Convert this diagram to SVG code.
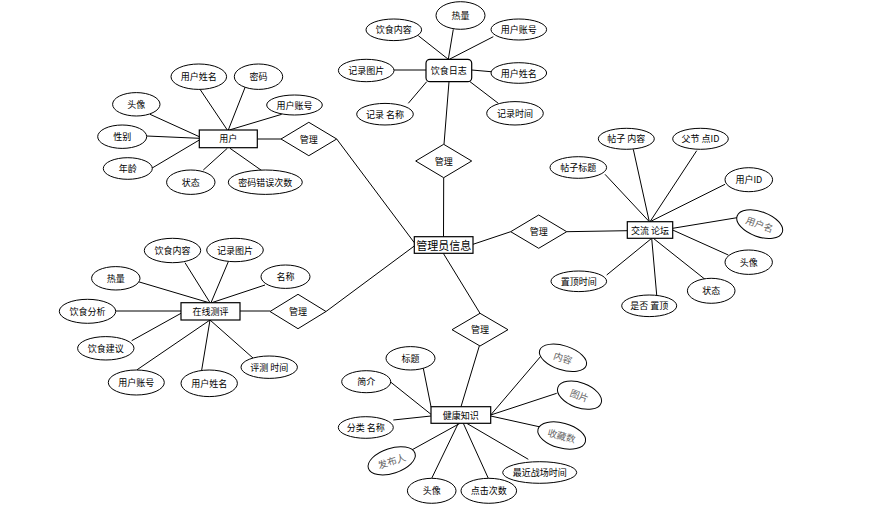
<svg xmlns="http://www.w3.org/2000/svg" width="872" height="514" viewBox="0 0 872 514">
<style>
.e{fill:#fff;stroke:#000;stroke-width:1}
.r{fill:#fff;stroke:#000;stroke-width:1.2}
.d{fill:#fff;stroke:#000;stroke-width:1}
.t{font-family:"Noto Sans CJK SC","Liberation Sans",sans-serif;font-size:9px;fill:#000;text-anchor:middle;dominant-baseline:central}
.g{font-family:"Noto Sans CJK SC","Liberation Sans",serif;font-size:9.5px;fill:#666;text-anchor:middle;dominant-baseline:central}
.big{font-size:11px}
#connectors line{stroke:#000;stroke-width:1}
</style>
<rect width="872" height="514" fill="#fff"/>
<g id="connectors">
<line x1="443.5" y1="237" x2="443.7" y2="178"/>
<line x1="473" y1="244.3" x2="510.7" y2="231.7"/>
<line x1="336.7" y1="139" x2="414.3" y2="242.7"/>
<line x1="326" y1="311.5" x2="414.3" y2="246"/>
<line x1="443.3" y1="253.3" x2="480" y2="313.3"/>
<line x1="444" y1="144.3" x2="449" y2="81.7"/>
<line x1="418.3" y1="35.7" x2="448.3" y2="59.3"/>
<line x1="453.3" y1="29.3" x2="448.3" y2="59.3"/>
<line x1="493.3" y1="36.7" x2="449.3" y2="59.3"/>
<line x1="394" y1="70" x2="426" y2="70"/>
<line x1="471.7" y1="70" x2="491" y2="71.7"/>
<line x1="408.3" y1="103.3" x2="426.7" y2="81.7"/>
<line x1="498.3" y1="103.3" x2="470" y2="81.7"/>
<line x1="257.3" y1="139" x2="281" y2="139"/>
<line x1="200" y1="89.3" x2="227.3" y2="130"/>
<line x1="246" y1="85" x2="228.3" y2="130"/>
<line x1="281.7" y1="114.3" x2="229.3" y2="130"/>
<line x1="150" y1="114.3" x2="199.3" y2="136.7"/>
<line x1="146.7" y1="136" x2="199.3" y2="138.3"/>
<line x1="151.7" y1="168.3" x2="199.3" y2="140"/>
<line x1="203.3" y1="170" x2="227.3" y2="148.3"/>
<line x1="263.3" y1="171.7" x2="230" y2="148.3"/>
<line x1="566.7" y1="231.7" x2="627.3" y2="230.7"/>
<line x1="633.3" y1="149.3" x2="649.3" y2="221.7"/>
<line x1="696.7" y1="150.7" x2="650" y2="221.7"/>
<line x1="605" y1="174.3" x2="649.3" y2="221.7"/>
<line x1="725" y1="184.3" x2="650" y2="221.7"/>
<line x1="737" y1="217.7" x2="672.7" y2="228.3"/>
<line x1="728.3" y1="255" x2="672.7" y2="230"/>
<line x1="705" y1="279.3" x2="653.3" y2="238.3"/>
<line x1="606.7" y1="275" x2="651.7" y2="238.3"/>
<line x1="656.7" y1="295" x2="651.7" y2="238.3"/>
<line x1="240" y1="311" x2="270" y2="311"/>
<line x1="185" y1="262.7" x2="210" y2="302.7"/>
<line x1="228.3" y1="261.7" x2="211" y2="302.7"/>
<line x1="138.3" y1="281.7" x2="209" y2="302.7"/>
<line x1="265" y1="285" x2="211.7" y2="302.7"/>
<line x1="115.7" y1="311" x2="181" y2="311"/>
<line x1="131.7" y1="340.7" x2="181" y2="313.3"/>
<line x1="136.7" y1="370" x2="210" y2="320"/>
<line x1="201.7" y1="370" x2="210" y2="320"/>
<line x1="253.3" y1="358.3" x2="210" y2="320"/>
<line x1="479.3" y1="346" x2="461" y2="406.7"/>
<line x1="423.3" y1="368.3" x2="431" y2="406.7"/>
<line x1="389.3" y1="381" x2="431" y2="414.3"/>
<line x1="542.7" y1="354" x2="490.7" y2="415"/>
<line x1="556.7" y1="393.3" x2="490.7" y2="415"/>
<line x1="539" y1="426.7" x2="490.7" y2="416"/>
<line x1="393.3" y1="420" x2="431" y2="416"/>
<line x1="411.7" y1="450" x2="460" y2="423.3"/>
<line x1="466.7" y1="423.3" x2="528.3" y2="459.3"/>
<line x1="458.3" y1="423.3" x2="431.7" y2="478.3"/>
<line x1="463.3" y1="423.3" x2="488.3" y2="478.3"/>
</g>
<g id="admin">
<rect class="r" x="414.3" y="236.7" width="58.7" height="16.6" stroke-width="1.6"/>
<text class="t big" x="443.7" y="245">管理员信息</text>
</g>
<g id="rel-diet"><polygon class="d" points="415.7,161 443.7,144.3 471.7,161 443.7,177.7"/><text class="t" x="443.7" y="161">管理</text></g>
<g id="rel-forum"><polygon class="d" points="510.7,231.7 538.7,215 566.7,231.7 538.7,248.3"/><text class="t" x="538.7" y="231.7">管理</text></g>
<g id="rel-user"><polygon class="d" points="281,139 308.8,122.3 336.7,139 308.8,155.7"/><text class="t" x="308.8" y="139">管理</text></g>
<g id="rel-eval"><polygon class="d" points="270,311.5 298,294.3 326,311.5 298,328.7"/><text class="t" x="298" y="311.5">管理</text></g>
<g id="rel-health"><polygon class="d" points="452,329.7 480,313.3 508,329.7 480,346"/><text class="t" x="480" y="329.7">管理</text></g>
<g id="diet"><rect class="r" x="426" y="59.3" width="45.7" height="22.4" rx="4"/><text class="t" x="448.8" y="70.5">饮食日志</text></g>
<g id="diet-a1"><ellipse class="e" cx="393.8" cy="29.8" rx="27.8" ry="10.8"/><text class="t" x="393.8" y="29.8">饮食内容</text></g>
<g id="diet-a2"><ellipse class="e" cx="460.5" cy="15.5" rx="24.5" ry="13.8"/><text class="t" x="460.5" y="15.5">热量</text></g>
<g id="diet-a3"><ellipse class="e" cx="518.8" cy="29.5" rx="27.8" ry="10.5"/><text class="t" x="518.8" y="29.5">用户账号</text></g>
<g id="diet-a4"><ellipse class="e" cx="366.2" cy="70.5" rx="27.8" ry="11.2"/><text class="t" x="366.2" y="70.5">记录图片</text></g>
<g id="diet-a5"><ellipse class="e" cx="518.8" cy="73" rx="27.8" ry="10.3"/><text class="t" x="518.8" y="73">用户姓名</text></g>
<g id="diet-a6"><ellipse class="e" cx="385" cy="114.2" rx="28.3" ry="10.8"/><text class="t" x="385" y="114.2">记录 名称</text></g>
<g id="diet-a7"><ellipse class="e" cx="515" cy="113.3" rx="28.3" ry="11.7"/><text class="t" x="515" y="113.3">记录时间</text></g>
<g id="user"><rect class="r" x="199.3" y="130" width="58" height="17.7"/><text class="t" x="228.3" y="138.8">用户</text></g>
<g id="user-a1"><ellipse class="e" cx="198.8" cy="76.7" rx="27.8" ry="12.7"/><text class="t" x="198.8" y="76.7">用户姓名</text></g>
<g id="user-a2"><ellipse class="e" cx="258.5" cy="76.7" rx="24.2" ry="12.7"/><text class="t" x="258.5" y="76.7">密码</text></g>
<g id="user-a3"><ellipse class="e" cx="136.3" cy="104.3" rx="23.7" ry="11.7"/><text class="t" x="136.3" y="104.3">头像</text></g>
<g id="user-a4"><ellipse class="e" cx="294.5" cy="105" rx="27.8" ry="10"/><text class="t" x="294.5" y="105">用户账号</text></g>
<g id="user-a5"><ellipse class="e" cx="122.2" cy="136.7" rx="24.5" ry="11.7"/><text class="t" x="122.2" y="136.7">性别</text></g>
<g id="user-a6"><ellipse class="e" cx="127.8" cy="168.5" rx="24.5" ry="10.8"/><text class="t" x="127.8" y="168.5">年龄</text></g>
<g id="user-a7"><ellipse class="e" cx="190.8" cy="182.2" rx="24.2" ry="12.2"/><text class="t" x="190.8" y="182.2">状态</text></g>
<g id="user-a8"><ellipse class="e" cx="265.3" cy="182.2" rx="37" ry="12.2"/><text class="t" x="265.3" y="182.2">密码错误次数</text></g>
<g id="forum"><rect class="r" x="627.3" y="221.7" width="45.4" height="16.6"/><text class="t" x="650" y="230">交流 论坛</text></g>
<g id="forum-a1"><ellipse class="e" cx="626.3" cy="138.8" rx="28" ry="10.5"/><text class="t" x="626.3" y="138.8">帖子 内容</text></g>
<g id="forum-a2"><ellipse class="e" cx="700.5" cy="138.8" rx="27.8" ry="10.5"/><text class="t" x="700.5" y="138.8">父节 点ID</text></g>
<g id="forum-a3"><ellipse class="e" cx="578.3" cy="167.5" rx="28.3" ry="10.8"/><text class="t" x="578.3" y="167.5">帖子标题</text></g>
<g id="forum-a4"><ellipse class="e" cx="748.8" cy="179.7" rx="23.8" ry="12"/><text class="t" x="748.8" y="179.7">用户ID</text></g>
<g id="forum-a5" transform="rotate(20 759.7 224.2)"><ellipse class="e" cx="759.7" cy="224.2" rx="24" ry="12.5"/><text class="g" x="759.7" y="224.2">用户名</text></g>
<g id="forum-a6"><ellipse class="e" cx="748.7" cy="262.2" rx="23.7" ry="12.2"/><text class="t" x="748.7" y="262.2">头像</text></g>
<g id="forum-a7"><ellipse class="e" cx="711.2" cy="290.8" rx="23.8" ry="12.5"/><text class="t" x="711.2" y="290.8">状态</text></g>
<g id="forum-a8"><ellipse class="e" cx="578.8" cy="281.3" rx="27.8" ry="10.3"/><text class="t" x="578.8" y="281.3">置顶时间</text></g>
<g id="forum-a9"><ellipse class="e" cx="649.2" cy="305.8" rx="27.5" ry="10.8"/><text class="t" x="649.2" y="305.8">是否 置顶</text></g>
<g id="eval"><rect class="r" x="181" y="302.7" width="59" height="17.3"/><text class="t" x="210.5" y="311.3">在线测评</text></g>
<g id="eval-a1"><ellipse class="e" cx="172.5" cy="250.5" rx="28.2" ry="12.2"/><text class="t" x="172.5" y="250.5">饮食内容</text></g>
<g id="eval-a2"><ellipse class="e" cx="235" cy="250" rx="28.3" ry="11.7"/><text class="t" x="235" y="250">记录图片</text></g>
<g id="eval-a3"><ellipse class="e" cx="115.8" cy="278.3" rx="24.2" ry="11.7"/><text class="t" x="115.8" y="278.3">热量</text></g>
<g id="eval-a4"><ellipse class="e" cx="285.5" cy="276.7" rx="24.5" ry="11.7"/><text class="t" x="285.5" y="276.7">名称</text></g>
<g id="eval-a5"><ellipse class="e" cx="87.5" cy="311.3" rx="28.2" ry="12"/><text class="t" x="87.5" y="311.3">饮食分析</text></g>
<g id="eval-a6"><ellipse class="e" cx="105.8" cy="348.3" rx="28.2" ry="11.7"/><text class="t" x="105.8" y="348.3">饮食建议</text></g>
<g id="eval-a7"><ellipse class="e" cx="136.3" cy="382.5" rx="28" ry="12.5"/><text class="t" x="136.3" y="382.5">用户账号</text></g>
<g id="eval-a8"><ellipse class="e" cx="209.2" cy="383.3" rx="28.2" ry="13.3"/><text class="t" x="209.2" y="383.3">用户姓名</text></g>
<g id="eval-a9"><ellipse class="e" cx="269.2" cy="367.2" rx="28.2" ry="11.2"/><text class="t" x="269.2" y="367.2">评测 时间</text></g>
<g id="health"><rect class="r" x="431" y="406.7" width="59.7" height="16.6"/><text class="t" x="460.8" y="415">健康知识</text></g>
<g id="health-a1"><ellipse class="e" cx="410.5" cy="358.3" rx="24.5" ry="11.7"/><text class="t" x="410.5" y="358.3">标题</text></g>
<g id="health-a2"><ellipse class="e" cx="366.2" cy="381.7" rx="24.5" ry="11"/><text class="t" x="366.2" y="381.7">简介</text></g>
<g id="health-a3" transform="rotate(18 563 357.8)"><ellipse class="e" cx="563" cy="357.8" rx="24.5" ry="12"/><text class="g" x="563" y="357.8">内容</text></g>
<g id="health-a4" transform="rotate(20 579.5 395.2)"><ellipse class="e" cx="579.5" cy="395.2" rx="23" ry="12.5"/><text class="g" x="579.5" y="395.2">图片</text></g>
<g id="health-a5" transform="rotate(15 561.7 435.5)"><ellipse class="e" cx="561.7" cy="435.5" rx="24.5" ry="12.5"/><text class="g" x="561.7" y="435.5">收藏数</text></g>
<g id="health-a6"><ellipse class="e" cx="365.8" cy="427.5" rx="27.5" ry="10.8"/><text class="t" x="365.8" y="427.5">分类 名称</text></g>
<g id="health-a7" transform="rotate(-18 391.7 460.8)"><ellipse class="e" cx="391.7" cy="460.8" rx="24.5" ry="12.5"/><text class="g" x="391.7" y="460.8">发布人</text></g>
<g id="health-a8"><ellipse class="e" cx="539.7" cy="472.5" rx="37" ry="10.8"/><text class="t" x="539.7" y="472.5">最近战场时间</text></g>
<g id="health-a9"><ellipse class="e" cx="431.7" cy="490.8" rx="24.3" ry="12.5"/><text class="t" x="431.7" y="490.8">头像</text></g>
<g id="health-a10"><ellipse class="e" cx="488.8" cy="490.8" rx="27.8" ry="12.5"/><text class="t" x="488.8" y="490.8">点击次数</text></g>
</svg>
